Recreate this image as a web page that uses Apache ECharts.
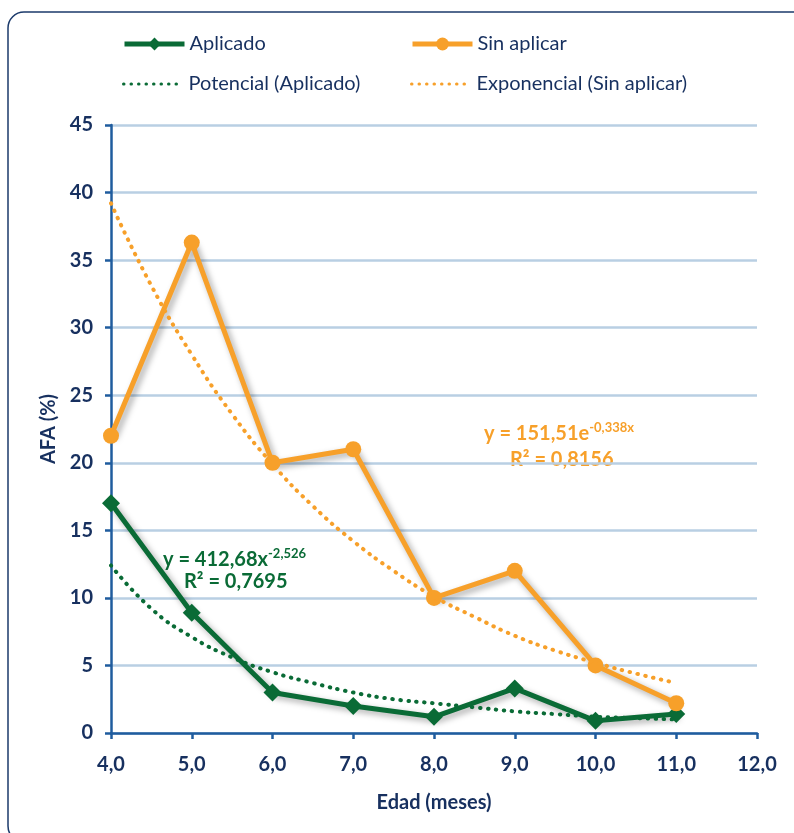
<!DOCTYPE html>
<html><head><meta charset="utf-8">
<script src="https://cdn.jsdelivr.net/npm/echarts@6/dist/echarts.min.js"></script>
<style>html,body{margin:0;padding:0;background:#fff;}#c{width:794px;height:833px;}</style>
</head><body><div id="c"></div>
<script>
var edad = [4, 5, 6, 7, 8, 9, 10, 11];
var aplicado = [17.0, 8.9, 3.0, 2.0, 1.2, 3.3, 0.9, 1.4];
var sinAplicar = [22.0, 36.3, 20.0, 21.0, 10.0, 12.0, 5.0, 2.2];
var trendX = [4, 4.5, 5, 5.5, 6, 6.5, 7, 7.5, 8, 8.5, 9, 9.5, 10, 10.5, 11];
var potencialAplicado = [12.4, 9.2, 7.1, 5.6, 4.5, 3.7, 3.0, 2.5, 2.2, 1.9, 1.6, 1.4, 1.2, 1.1, 1.0];
var exponencialSin = [39.2, 33.1, 28.0, 23.6, 19.9, 16.8, 14.2, 12.0, 10.1, 8.6, 7.2, 6.1, 5.2, 4.4, 3.7];
var yTicks = [0, 45, 5];
var xTicks = [4, 12, 1];

var navy = '#17305f', green = '#0a6b36', orange = '#f7a02a';
function pairs(xs, ys){ return xs.map(function(x,i){ return [x, ys[i]]; }); }
var shadow = {shadowColor:'rgba(0,0,0,0.35)', shadowBlur:6, shadowOffsetX:3, shadowOffsetY:3};
var dotted = function(c){ return {color:c, width:4, type:[0.5,7.5], cap:'round'}; };
var legText = {color:navy, fontSize:20, fontFamily:'Lato'};
var mainLeg = {itemWidth:60, itemHeight:16, textStyle:legText, padding:0, itemGap:0,
  lineStyle:{width:5, shadowBlur:0, shadowOffsetX:0, shadowOffsetY:0}};
var trendLeg = {itemWidth:60, itemHeight:16, textStyle:legText, padding:0, itemGap:0,
  itemStyle:{opacity:0}, lineStyle:{width:3, type:[0.5,7], cap:'round'}};
var lbl = {color:navy, fontWeight:'bold', fontSize:20, fontFamily:'Lato'};
var chart = echarts.init(document.getElementById('c'));
chart.setOption({
  animation:false,
  backgroundColor:'#fff',
  grid:{left:111, right:37, top:125, bottom:100},
  legend:[
    Object.assign({data:['Aplicado'], left:122, top:34}, mainLeg),
    Object.assign({data:['Sin aplicar'], left:410, top:34}, mainLeg),
    Object.assign({data:['Potencial (Aplicado)'], left:122, top:74}, trendLeg),
    Object.assign({data:['Exponencial (Sin aplicar)'], left:410, top:74}, trendLeg)
  ],
  xAxis:{type:'value', min:xTicks[0], max:xTicks[1], interval:xTicks[2],
    name:'Edad (meses)', nameLocation:'middle', nameGap:60,
    nameTextStyle:{color:navy, fontWeight:'bold', fontSize:20, fontFamily:'Lato'},
    axisLine:{lineStyle:{color:'#1f5c9e', width:2.5}},
    axisTick:{show:true, length:6, lineStyle:{color:'#1f5c9e', width:2.5}},
    axisLabel:Object.assign({margin:22, formatter:function(v){ return v.toFixed(1).replace('.',','); }}, lbl),
    splitLine:{show:false}},
  yAxis:{type:'value', min:yTicks[0], max:yTicks[1], interval:yTicks[2],
    name:'AFA (%)', nameLocation:'middle', nameGap:50, nameRotate:90,
    nameTextStyle:{color:navy, fontWeight:'bold', fontSize:20, fontFamily:'Lato'},
    axisLine:{show:true, lineStyle:{color:'#1f5c9e', width:2.5}},
    axisTick:{show:true, length:6, lineStyle:{color:'#1f5c9e', width:2.5}},
    axisLabel:Object.assign({margin:18}, lbl),
    splitLine:{show:true, lineStyle:{color:'#b9cfe3', width:2.5}}},
  series:[
    {name:'Aplicado', type:'line', data:pairs(edad, aplicado), z:3,
      symbol:'diamond', symbolSize:18, itemStyle:{color:green},
      lineStyle:Object.assign({color:green, width:5}, shadow)},
    {name:'Sin aplicar', type:'line', data:pairs(edad, sinAplicar), z:3,
      symbol:'circle', symbolSize:16, itemStyle:{color:orange},
      lineStyle:Object.assign({color:orange, width:5}, shadow)},
    {name:'Potencial (Aplicado)', type:'line', data:pairs(trendX, potencialAplicado), z:4,
      smooth:true, symbol:'none', itemStyle:{color:green}, lineStyle:dotted(green)},
    {name:'Exponencial (Sin aplicar)', type:'line', data:pairs(trendX, exponencialSin), z:4,
      smooth:true, symbol:'none', itemStyle:{color:orange}, lineStyle:dotted(orange)}
  ],
  graphic:[
    {type:'rect', shape:{x:8, y:12, width:800, height:830, r:16}, silent:true, z:-1,
      style:{fill:'none', stroke:'#1b3a6b', lineWidth:1.5}},
    {type:'text', left:163, top:547, style:{
      text:'{b|y = 412,68x}{s|-2,526}', rich:{b:{fill:green, fontSize:20, fontWeight:'bold', fontFamily:'Lato'}, s:{fill:green, fontSize:13, fontWeight:'bold', fontFamily:'Lato', verticalAlign:'top', padding:[0,0,12,0]}}}},
    {type:'text', left:184, top:572, style:{
      text:'R² = 0,7695', fill:green, fontSize:20, fontWeight:'bold', fontFamily:'Lato'}},
    {type:'text', left:484, top:421, style:{
      text:'{b|y = 151,51e}{s|-0,338x}', rich:{b:{fill:orange, fontSize:20, fontWeight:'bold', fontFamily:'Lato'}, s:{fill:orange, fontSize:13, fontWeight:'bold', fontFamily:'Lato', verticalAlign:'top', padding:[0,0,12,0]}}}},
    {type:'text', left:510, top:450, style:{
      text:'R² = 0,8156', fill:orange, fontSize:20, fontWeight:'bold', fontFamily:'Lato'}}
  ]
});
</script></body></html>
